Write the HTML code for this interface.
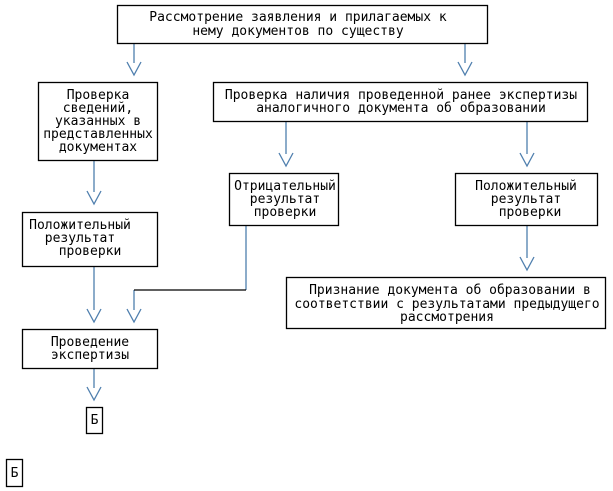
<!DOCTYPE html>
<html><head><meta charset="utf-8"><style>
html,body{margin:0;padding:0;background:#fff;}
svg{display:block;}
text{font-family:"DejaVu Sans Mono","Liberation Mono",monospace;font-size:13px;letter-spacing:0;fill:#000;text-anchor:middle;}
.b{fill:#fff;stroke:#000;stroke-width:1.3;}
.l{stroke:#4f7fae;stroke-width:1.3;fill:none;}
</style></head><body>
<svg width="613" height="491" viewBox="0 0 613 491">
<path class="l" d="M134 43V63M127 62L134 75L141 62"/>
<path class="l" d="M465 43V63M458 62L465 75L472 62"/>
<path class="l" d="M94 160V192M87 191L94 204L101 191"/>
<path class="l" d="M286 121V154M279 153L286 166L293 153"/>
<path class="l" d="M527 121V154M520 153L527 166L534 153"/>
<path class="l" d="M527 225V258M520 257L527 270L534 257"/>
<path class="l" d="M94 266V310M87 309L94 322L101 309"/>
<path class="l" d="M246 225V290M134 290V310M127 309L134 322L141 309"/>
<path class="l" d="M94 368V388M87 387L94 400L101 387"/>
<path d="M246 290H134" stroke="#000" stroke-width="1.2" fill="none"/>

<rect class="b" x="117.5" y="5.5" width="370" height="38"/>
<text x="298" y="21">Рассмотрение заявления и прилагаемых к</text>
<text x="298" y="35">нему документов по существу</text>

<rect class="b" x="38.5" y="82.5" width="119" height="78"/>
<text x="98" y="99">Проверка</text>
<text x="98" y="112">сведений,</text>
<text x="98" y="125">указанных в</text>
<text x="98" y="138">представленных</text>
<text x="98" y="151">документах</text>

<rect class="b" x="213.5" y="82.5" width="374" height="39"/>
<text x="401" y="99">Проверка наличия проведенной ранее экспертизы</text>
<text x="401" y="112">аналогичного документа об образовании</text>

<rect class="b" x="22.5" y="212.5" width="135" height="54"/>
<text x="80" y="229">Положительный</text>
<text x="80" y="242">результат</text>
<text x="90" y="255">проверки</text>

<rect class="b" x="229.5" y="173.5" width="109" height="52"/>
<text x="285" y="190">Отрицательный</text>
<text x="285" y="203">результат</text>
<text x="285" y="216">проверки</text>

<rect class="b" x="455.5" y="173.5" width="142" height="52"/>
<text x="526" y="190">Положительный</text>
<text x="526" y="203">результат</text>
<text x="530" y="216">проверки</text>

<rect class="b" x="286.5" y="277.5" width="319" height="51"/>
<text x="450" y="294">Признание документа об образовании в</text>
<text x="447" y="308">соответствии с результатами предыдущего</text>
<text x="447" y="321">рассмотрения</text>

<rect class="b" x="22.5" y="329.5" width="135" height="39"/>
<text x="90" y="346">Проведение</text>
<text x="90" y="359">экспертизы</text>

<rect class="b" x="86.5" y="407.5" width="16" height="26"/>
<text x="94.5" y="424">Б</text>
<rect class="b" x="6.5" y="459.5" width="16" height="27"/>
<text x="14.5" y="477">Б</text>
</svg>
</body></html>
